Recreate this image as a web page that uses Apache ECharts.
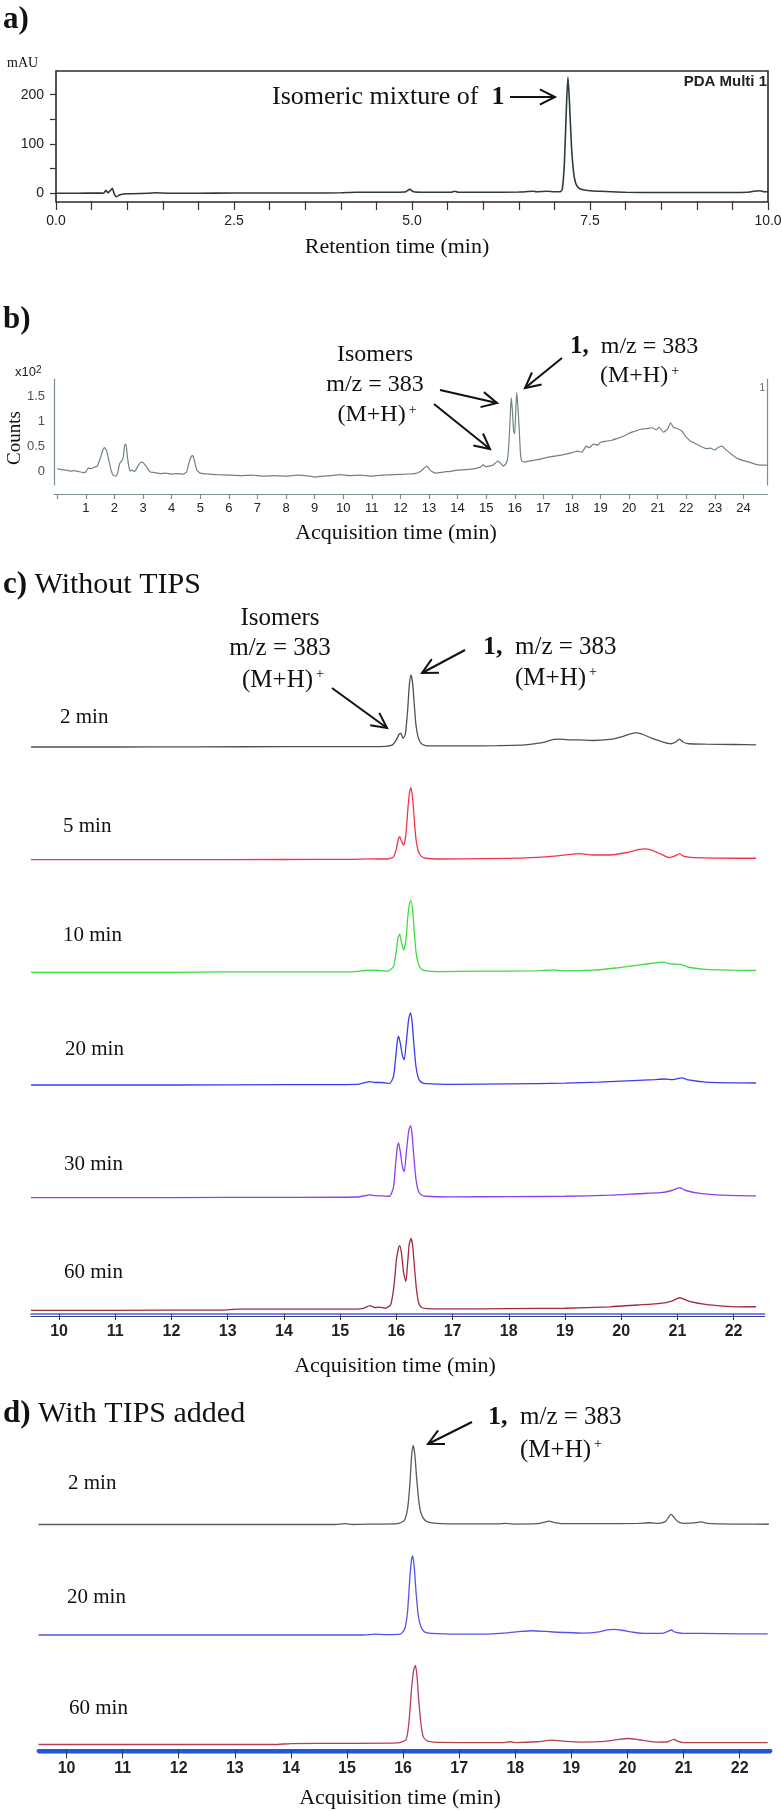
<!DOCTYPE html>
<html>
<head>
<meta charset="utf-8">
<script src="https://cdn.jsdelivr.net/npm/echarts@6/dist/echarts.min.js"></script>
<style>
html,body{margin:0;padding:0;background:#fff;}
#chart{width:782px;height:1811px;}
</style>
</head>
<body>
<div id="chart"></div>
<script>
// ---------------- DATA ----------------
// a) HPLC trace: [retention time (min), mAU]
const traceA = [[0,0],[0.3,0],[0.6,0.5],[0.67,0],[0.7,6],[0.73,1],[0.76,5],[0.79,10],[0.82,-2],[0.85,-7],[0.9,-3],[1.0,-1],[1.3,0],[1.4,1],[1.6,0],[2.0,0],[2.5,0.5],[3.0,0.5],[3.5,0.5],[4.0,1],[4.2,2],[4.5,2],[4.9,2.5],[4.97,8],[5.02,3],[5.2,2],[5.55,2],[5.6,4],[5.65,2],[6.0,2],[6.5,2.5],[6.7,4],[6.75,3],[6.9,4],[7.0,3],[7.08,3],[7.11,8],[7.14,60],[7.17,180],[7.19,236],[7.21,190],[7.24,95],[7.27,42],[7.3,20],[7.34,11],[7.4,7],[7.5,5],[7.65,4],[7.8,3],[8.0,2],[8.5,1.5],[9.0,1.5],[9.5,1.5],[9.7,2],[9.8,4],[9.88,5],[9.95,3],[10,3]];
const aXTicks = [0,0.5,1,1.5,2,2.5,3,3.5,4,4.5,5,5.5,6,6.5,7,7.5,8,8.5,9,9.5,10];
const aXLabels = [0,2.5,5,7.5,10];
const aYTicks = [0,50,100,150,200];
const aYLabels = [0,100,200];

// b) LC-MS trace: [acquisition time (min), counts x10^2]
const traceB = [[0,0.05],[0.15,0.03],[0.3,0.02],[0.45,0.0],[0.6,0.01],[0.75,-0.01],[0.9,-0.03],[1.0,-0.02],[1.08,0.06],[1.2,0.05],[1.3,0.08],[1.4,0.1],[1.5,0.25],[1.58,0.4],[1.65,0.47],[1.72,0.42],[1.8,0.22],[1.88,0.02],[1.95,-0.08],[2.05,-0.1],[2.12,-0.02],[2.18,0.15],[2.25,0.2],[2.3,0.26],[2.36,0.52],[2.4,0.54],[2.45,0.3],[2.5,0.1],[2.55,0.0],[2.62,0.02],[2.7,-0.01],[2.8,0.08],[2.9,0.17],[2.97,0.18],[3.05,0.14],[3.15,0.06],[3.25,-0.02],[3.4,-0.03],[3.6,-0.05],[3.8,-0.04],[4.0,-0.06],[4.2,-0.05],[4.4,-0.06],[4.52,-0.02],[4.6,0.15],[4.68,0.29],[4.74,0.31],[4.8,0.2],[4.88,0.02],[5.0,-0.04],[5.3,-0.06],[5.6,-0.07],[6.0,-0.08],[6.4,-0.09],[6.8,-0.08],[7.2,-0.1],[7.6,-0.09],[8.0,-0.1],[8.4,-0.08],[8.8,-0.1],[9.0,-0.12],[9.3,-0.1],[9.6,-0.09],[9.9,-0.07],[10.2,-0.09],[10.6,-0.08],[11.0,-0.1],[11.4,-0.08],[11.8,-0.07],[12.2,-0.06],[12.5,-0.05],[12.7,-0.01],[12.85,0.07],[12.92,0.1],[13.0,0.05],[13.1,-0.01],[13.25,-0.04],[13.5,-0.02],[13.8,0.0],[14.0,0.02],[14.3,0.03],[14.6,0.05],[14.8,0.08],[14.9,0.13],[14.97,0.09],[15.1,0.1],[15.25,0.12],[15.4,0.2],[15.5,0.16],[15.6,0.1],[15.68,0.14],[15.75,0.25],[15.8,0.6],[15.85,1.2],[15.88,1.47],[15.92,1.2],[15.96,0.8],[16.0,0.75],[16.04,1.3],[16.07,1.58],[16.11,1.3],[16.16,0.8],[16.2,0.35],[16.25,0.2],[16.35,0.18],[16.5,0.2],[16.7,0.22],[16.9,0.24],[17.1,0.27],[17.4,0.3],[17.7,0.33],[18.0,0.37],[18.2,0.4],[18.35,0.38],[18.5,0.5],[18.6,0.47],[18.75,0.54],[18.9,0.52],[19.0,0.58],[19.2,0.6],[19.4,0.62],[19.6,0.66],[19.8,0.7],[20.0,0.76],[20.2,0.8],[20.4,0.84],[20.6,0.85],[20.8,0.87],[20.95,0.83],[21.05,0.88],[21.2,0.78],[21.35,0.85],[21.45,0.97],[21.55,0.88],[21.7,0.85],[21.85,0.8],[22.0,0.68],[22.15,0.6],[22.3,0.56],[22.5,0.5],[22.7,0.45],[22.85,0.46],[23.0,0.42],[23.1,0.47],[23.25,0.5],[23.4,0.42],[23.6,0.33],[23.8,0.25],[24.0,0.21],[24.2,0.18],[24.4,0.14],[24.6,0.12],[24.84,0.12]];
const bXTicks = [0,1,2,3,4,5,6,7,8,9,10,11,12,13,14,15,16,17,18,19,20,21,22,23,24];
const bXLabels = [1,2,3,4,5,6,7,8,9,10,11,12,13,14,15,16,17,18,19,20,21,22,23,24];
const bYLabels = [0,0.5,1,1.5];

// c) Without TIPS (relative intensity, main peak = 100)
const c2min = [[9.5,0],[11,0],[12.5,0.2],[14,0.5],[15,0.5],[15.5,0.6],[15.8,1],[15.93,3],[16.0,10],[16.05,18],[16.08,19],[16.12,12],[16.16,18],[16.2,50],[16.23,85],[16.26,100],[16.29,88],[16.32,58],[16.35,30],[16.39,13],[16.44,5],[16.52,2],[16.7,1.5],[17.2,1.5],[17.8,2],[18.3,3],[18.6,6],[18.8,10.5],[18.9,11],[19.05,10],[19.26,10],[19.5,9],[19.8,10.5],[20.0,14],[20.15,18],[20.28,19.5],[20.4,17],[20.55,12],[20.7,8],[20.88,4.5],[20.97,7],[21.04,11],[21.1,7],[21.2,4.5],[21.5,4],[22.0,3.5],[22.4,3]];
const c5min = [[9.5,0],[12,0],[14,0.3],[15.2,0.5],[15.5,1.2],[15.65,1],[15.85,1],[15.95,4],[16.0,15],[16.03,27],[16.06,32],[16.09,26],[16.13,20],[16.17,35],[16.21,75],[16.24,96],[16.26,100],[16.29,85],[16.32,55],[16.35,28],[16.39,12],[16.44,5],[16.52,2],[16.8,1],[17.5,1.5],[18.3,2.5],[18.8,5],[19.1,7.5],[19.26,8.3],[19.5,6.5],[19.8,6.5],[20.1,10],[20.3,14],[20.42,15],[20.55,13],[20.7,8],[20.85,3],[20.95,5],[21.04,8.3],[21.12,4.5],[21.3,3],[22.0,2],[22.4,2]];
const c10min = [[9.5,0],[12,0],[13,0.6],[15.2,0.6],[15.45,2.5],[15.55,3],[15.7,2.5],[15.85,1.5],[15.95,8],[16.0,30],[16.03,48],[16.06,53],[16.09,42],[16.13,31],[16.17,45],[16.21,82],[16.24,97],[16.26,100],[16.29,86],[16.32,55],[16.35,28],[16.39,12],[16.44,5],[16.52,2],[16.8,1],[17.5,1.5],[18.5,2],[18.8,3.5],[19.0,2],[19.5,3],[19.9,6],[20.3,10],[20.6,13],[20.73,14],[20.9,11.5],[21.06,11],[21.2,7],[21.5,4],[22.0,3],[22.4,2.5]];
const c20min = [[9.5,0],[12,0],[14,0.5],[15.3,1],[15.45,3.5],[15.53,4.6],[15.62,3.5],[15.75,3.5],[15.88,2],[15.95,12],[15.99,40],[16.02,62],[16.04,68],[16.07,58],[16.11,40],[16.14,35],[16.18,62],[16.22,92],[16.25,100],[16.28,88],[16.31,58],[16.35,25],[16.39,10],[16.44,4],[16.52,2],[17,1],[18,1.5],[19,2.5],[19.6,4],[20.2,6],[20.6,7.5],[20.77,8.3],[20.92,7.5],[21.08,10],[21.2,7],[21.5,4],[22,3],[22.4,2.8]];
const c30min = [[9.5,0],[12,0.2],[14,0.5],[15.3,1],[15.45,3],[15.53,3.8],[15.62,2.8],[15.75,2.5],[15.88,2],[15.95,15],[15.99,50],[16.02,72],[16.04,76],[16.07,64],[16.11,42],[16.14,36],[16.18,65],[16.22,93],[16.25,100],[16.28,88],[16.31,58],[16.35,25],[16.39,10],[16.44,4],[16.52,2],[17,1.2],[18,1.5],[19,2],[19.8,3.5],[20.3,5.5],[20.7,7],[20.9,10],[21.04,14],[21.15,10],[21.4,6],[21.8,3.5],[22.4,2.4]];
const c60min = [[9.5,0],[12,0.3],[12.9,0.5],[13.2,1.8],[14,1.8],[15,1.8],[15.4,2.5],[15.53,6.5],[15.62,4],[15.7,4.6],[15.8,3],[15.9,8],[15.96,35],[16.0,70],[16.04,87],[16.06,90],[16.09,80],[16.13,52],[16.17,40],[16.2,65],[16.23,92],[16.26,100],[16.29,90],[16.32,62],[16.36,28],[16.4,10],[16.45,4],[16.55,2.5],[17,2],[18,2.5],[19,3],[19.8,5],[20.3,7.5],[20.7,9.7],[20.9,13],[21.04,17.6],[21.2,13],[21.5,8.3],[21.8,6],[22.1,5],[22.4,5.1]];
const cNames = ['2 min','5 min','10 min','20 min','30 min','60 min'];

// d) With TIPS added
const d2min = [[9.5,0],[12,0],[14.8,0],[14.96,1],[15.1,0],[15.5,0.5],[15.9,1],[16.02,5],[16.08,20],[16.12,50],[16.15,85],[16.18,100],[16.21,88],[16.24,60],[16.28,30],[16.32,14],[16.38,6],[16.45,3],[16.6,1.5],[17.0,0.8],[17.7,0.8],[17.82,1.5],[17.95,0.5],[18.4,1],[18.52,3],[18.6,4.2],[18.7,2.5],[18.9,1],[19.5,1],[20.2,1.5],[20.4,2.2],[20.55,1.5],[20.68,4],[20.74,10],[20.78,12.7],[20.83,9],[20.9,3.5],[21.0,1.5],[21.2,2],[21.32,3.4],[21.42,1.5],[22,0.5],[22.52,0.3]];
const d20min = [[9.5,0],[13,0],[15.3,0],[15.5,1],[15.7,0.4],[15.95,1],[16.03,8],[16.08,30],[16.12,72],[16.15,95],[16.17,100],[16.2,85],[16.23,55],[16.27,25],[16.32,10],[16.38,4],[16.5,2],[17.0,1],[17.3,1],[17.8,2.5],[18.1,4.5],[18.3,5.4],[18.55,4.5],[18.75,3.5],[19.2,2.5],[19.5,4],[19.65,6.5],[19.76,7.2],[19.9,6],[20.1,3.5],[20.3,2],[20.65,2.5],[20.73,5],[20.78,6.3],[20.85,3.5],[21.0,2],[21.3,2],[22,1.5],[22.5,1.3]];
const d60min = [[9.5,0],[12,0],[13.7,0],[14,1.2],[15,1.5],[15.9,2],[16.05,6],[16.1,25],[16.15,70],[16.19,95],[16.22,100],[16.25,85],[16.28,55],[16.32,25],[16.36,10],[16.42,5],[16.55,3],[17,2.5],[17.8,2.5],[17.9,3.5],[18.0,2.5],[18.4,3.5],[18.65,5.5],[18.9,4],[19.2,3],[19.6,4],[19.85,6.5],[20.02,7.6],[20.2,6],[20.5,3],[20.72,3.5],[20.8,6],[20.83,6.3],[20.9,4],[21.0,2.5],[21.5,2.5],[22,2.5],[22.5,2.5]];
const dNames = ['2 min','20 min','60 min'];
const cdTicks = [10,11,12,13,14,15,16,17,18,19,20,21,22];

// ---------------- STYLE / LAYOUT ----------------
const SERIF = '"Liberation Serif","Times New Roman",serif';
const SANS = '"Liberation Sans",Arial,sans-serif';
const cTraces = [c2min,c5min,c10min,c20min,c30min,c60min];
const cColors = ['#4b5257','#f2344e','#3fdc3f','#3c3cef','#8f3ef0','#a22a3c'];
const cBase = [747, 859.7, 972.3, 1085, 1197.7, 1310.4];
const cScale = 0.72;
const dTraces = [d2min,d20min,d60min];
const dColors = ['#555b60','#5454ec','#bb3d52'];
const dBase = [1524.5, 1635, 1744.5];
const dScale = 0.79;

const grids=[], xAxes=[], yAxes=[], series=[];
function addGrid(g){ grids.push(Object.assign({show:false, containLabel:false, outerBoundsMode:'none'}, g)); return grids.length-1; }
const hidden = {show:false};

// panel a
let gi = addGrid({left:56, top:71, width:712, height:131, show:true, borderColor:'#2a2a2a', borderWidth:1.6, backgroundColor:'transparent'});
xAxes.push({gridIndex:gi, type:'value', min:0, max:10, axisLine:{show:false, onZero:false},
  axisTick:{show:true, customValues:aXTicks, length:8, lineStyle:{color:'#333', width:1.2}},
  axisLabel:{show:true, customValues:aXLabels, formatter:v=>v.toFixed(1), margin:12, fontSize:14, fontFamily:SANS, color:'#222', showMinLabel:true, showMaxLabel:true, hideOverlap:false},
  splitLine:hidden});
yAxes.push({gridIndex:gi, type:'value', min:-17.7, max:248.2, axisLine:{show:false, onZero:false},
  axisTick:{show:true, customValues:aYTicks, length:6, lineStyle:{color:'#333', width:1.2}},
  axisLabel:{show:true, customValues:aYLabels, margin:12, fontSize:14, fontFamily:SANS, color:'#222', showMinLabel:true, showMaxLabel:true, hideOverlap:false},
  splitLine:hidden});
series.push({type:'line', xAxisIndex:xAxes.length-1, yAxisIndex:yAxes.length-1, data:traceA, showSymbol:false, smooth:0.2,
  lineStyle:{color:'#2d3a3f', width:1.6}});

// panel b
const bAxisColor = '#7d8f8f';
const bXMin = -0.115, bXMax = 24.84, bMin = -0.28, bMax = 1.85;
gi = addGrid({left:54, top:379, width:713.5, height:106});
xAxes.push({gridIndex:gi, type:'value', min:bXMin, max:bXMax, offset:9, axisLine:{show:true, onZero:false, lineStyle:{color:bAxisColor, width:1.2}},
  axisTick:{show:true, customValues:bXTicks, length:5, lineStyle:{color:bAxisColor, width:1.2}},
  axisLabel:{show:true, customValues:bXLabels, margin:8, fontSize:13, fontFamily:SANS, color:'#222', showMinLabel:true, showMaxLabel:true, hideOverlap:false},
  splitLine:hidden});
yAxes.push({gridIndex:gi, type:'value', min:bMin, max:bMax,
  axisLine:{show:true, onZero:false, lineStyle:{color:bAxisColor, width:1.2}},
  axisTick:{show:false}, axisLabel:hidden, splitLine:hidden});
const bSeriesY = yAxes.length-1, bSeriesX = xAxes.length-1;
yAxes.push({gridIndex:gi, type:'value', position:'right', min:bMin, max:bMax, axisLine:{show:true, onZero:false, lineStyle:{color:bAxisColor, width:1.2}},
  axisTick:hidden, axisLabel:hidden, splitLine:hidden});
series.push({type:'line', xAxisIndex:bSeriesX, yAxisIndex:bSeriesY, data:traceB, showSymbol:false, smooth:0.15,
  lineStyle:{color:'#6f8383', width:1.2}});
// y tick labels of b, placed on the b scale at the left axis
series.push({type:'scatter', xAxisIndex:bSeriesX, yAxisIndex:bSeriesY, silent:true, z:10, clip:false,
  data:bYLabels.map(v=>[bXMin, v]), symbolSize:0,
  label:{show:true, position:'left', distance:9, formatter:p=>String(p.value[1]), fontSize:13, fontFamily:SANS, color:'#222'},
  labelLayout:{hideOverlap:false}});

// panel c
cTraces.forEach((tr,i)=>{
  const g = addGrid({left:31, width:733.5, top:cBase[i]-105*cScale, height:110*cScale});
  const last = i===cTraces.length-1;
  xAxes.push({gridIndex:g, type:'value', min:9.5, max:22.55, show:true,
    axisLine:{show:last, onZero:false, lineStyle:{color:'#3d64e0', width:1.6}},
    axisTick:{show:last, customValues:cdTicks, length:6, lineStyle:{color:'#333', width:1}},
    axisLabel:{show:last, customValues:cdTicks, margin:10, fontSize:16, fontWeight:'bold', fontFamily:SANS, color:'#222', showMinLabel:true, showMaxLabel:true},
    splitLine:hidden});
  yAxes.push({gridIndex:g, type:'value', min:-5, max:105, show:false, axisLine:{onZero:false}, splitLine:hidden});
  series.push({type:'line', xAxisIndex:xAxes.length-1, yAxisIndex:yAxes.length-1, data:tr, showSymbol:false, smooth:0.2,
    lineStyle:{color:cColors[i], width:1.3}});
  if(last){
    xAxes.push({gridIndex:g, type:'value', min:9.5, max:22.55, position:'bottom', offset:2,
      axisLine:{show:true, onZero:false, lineStyle:{color:'#3b4070', width:1.2}}, axisTick:hidden, axisLabel:hidden, splitLine:hidden});
  }
});

// panel d
dTraces.forEach((tr,i)=>{
  const g = addGrid({left:38.5, width:732, top:dBase[i]-105*dScale, height:110*dScale});
  const last = i===dTraces.length-1;
  xAxes.push({gridIndex:g, type:'value', min:9.5, max:22.55, show:true, offset: last?2:0,
    axisLine:{show:last, onZero:false, lineStyle:{color:'#1f58d8', width:4}},
    axisTick:{show:last, customValues:cdTicks, length:8, lineStyle:{color:'#333', width:1}},
    axisLabel:{show:last, customValues:cdTicks, margin:10, fontSize:16, fontWeight:'bold', fontFamily:SANS, color:'#222', showMinLabel:true, showMaxLabel:true},
    splitLine:hidden});
  yAxes.push({gridIndex:g, type:'value', min:-5, max:105, show:false, axisLine:{onZero:false}, splitLine:hidden});
  series.push({type:'line', xAxisIndex:xAxes.length-1, yAxisIndex:yAxes.length-1, data:tr, showSymbol:false, smooth:0.2,
    lineStyle:{color:dColors[i], width:1.3}});
  if(last){
    xAxes.push({gridIndex:g, type:'value', min:9.5, max:22.55, position:'bottom', offset:5,
      axisLine:{show:true, onZero:false, lineStyle:{color:'#9aa4b4', width:1.2}}, axisTick:hidden, axisLabel:hidden, splitLine:hidden});
  }
});

// ---------------- TEXT & ARROWS ----------------
function T(x, y, text, o){
  const st = Object.assign({text:text, fill:'#111', fontFamily:SERIF, fontSize:21, align:'left', verticalAlign:'middle'}, o||{});
  return {type:'text', x:x, y:y, z:0, silent:true, style:st};
}
function C(x,y,text,o){ return T(x,y,text,Object.assign({align:'center'}, o||{})); }
const richMH = { s:{fontSize:14, fontFamily:SERIF, verticalAlign:'top', padding:[0,0,0,3]} };
function arrow(x1,y1,x2,y2){
  const head=17, ang=0.47;
  const dx=x1-x2, dy=y1-y2, L=Math.hypot(dx,dy), ux=dx/L, uy=dy/L;
  const rot=a=>[x2+head*(ux*Math.cos(a)-uy*Math.sin(a)), y2+head*(ux*Math.sin(a)+uy*Math.cos(a))];
  const st={stroke:'#111', lineWidth:2, fill:null};
  return [
    {type:'polyline', silent:true, z:0, shape:{points:[[x1,y1],[x2,y2]]}, style:st},
    {type:'polyline', silent:true, z:0, shape:{points:[rot(ang),[x2,y2],rot(-ang)]}, style:st}
  ];
}
const boldRich = (size)=>({ b:{fontWeight:'bold', fontSize:size, fontFamily:SERIF}, s:{fontSize:14, fontFamily:SERIF, verticalAlign:'top'} });

let gfx = [];
// panel labels
gfx.push(T(3, 20, 'a)', {fontSize:31, fontWeight:'bold'}));
gfx.push(T(3, 320, 'b)', {fontSize:31, fontWeight:'bold'}));
gfx.push(T(3, 585, '{b|c)} Without TIPS', {fontSize:30, rich:boldRich(31)}));
gfx.push(T(3, 1414, '{b|d)} With TIPS added', {fontSize:30, rich:boldRich(31)}));

// panel a texts
gfx.push(T(7, 63, 'mAU', {fontSize:14}));
gfx.push(T(272, 97, 'Isomeric mixture of  {b|1}', {fontSize:26, rich:boldRich(26)}));
gfx.push(T(767, 82, 'PDA Multi 1', {fontSize:15, fontWeight:'bold', fontFamily:SANS, align:'right', fill:'#222'}));
gfx.push(C(397, 247, 'Retention time (min)', {fontSize:22}));
gfx = gfx.concat(arrow(510,97,555,97));

// panel b texts
gfx.push(T(15, 372, 'x10{s|2}', {fontSize:13, fontFamily:SANS, fill:'#222', rich:{s:{fontSize:10, fontFamily:SANS, verticalAlign:'top'}}}));
gfx.push({type:'text', x:15, y:438, rotation:Math.PI/2, z:0, silent:true, style:{text:'Counts', fill:'#111', fontFamily:SERIF, fontSize:19, align:'center', verticalAlign:'middle'}});
gfx.push(T(765, 388, '1', {fontSize:10, fontFamily:SANS, fill:'#667', align:'right'}));
gfx.push(C(375, 355, 'Isomers', {fontSize:24}));
gfx.push(C(375, 385, 'm/z = 383', {fontSize:24}));
gfx.push(C(377, 415, '(M+H){s|+}', {fontSize:24, rich:richMH}));
gfx.push(T(570, 347, '{b|1,}  m/z = 383', {fontSize:24, rich:boldRich(25)}));
gfx.push(T(600, 376, '(M+H){s|+}', {fontSize:24, rich:richMH}));
gfx.push(C(396, 533, 'Acquisition time (min)', {fontSize:22}));
gfx = gfx.concat(arrow(440,390,497,403), arrow(434,404,490,449), arrow(562,358,525,388));

// panel c texts
const cLabelPos = [[60,717],[63,826],[63,935],[65,1049],[64,1164],[64,1272]];
cNames.forEach((n,i)=>gfx.push(T(cLabelPos[i][0], cLabelPos[i][1], n, {fontSize:21})));
gfx.push(C(280, 618, 'Isomers', {fontSize:25}));
gfx.push(C(280, 648, 'm/z = 383', {fontSize:25}));
gfx.push(C(283, 680, '(M+H){s|+}', {fontSize:25, rich:richMH}));
gfx.push(T(483, 647, '{b|1,}  m/z = 383', {fontSize:25, rich:boldRich(26)}));
gfx.push(T(515, 678, '(M+H){s|+}', {fontSize:25, rich:richMH}));
gfx.push(C(395, 1366, 'Acquisition time (min)', {fontSize:22}));
gfx = gfx.concat(arrow(332,688,387,728), arrow(465,650,422,673));

// panel d texts
const dLabelPos = [[68,1483],[67,1597],[69,1708]];
dNames.forEach((n,i)=>gfx.push(T(dLabelPos[i][0], dLabelPos[i][1], n, {fontSize:21})));
gfx.push(T(488, 1417, '{b|1,}  m/z = 383', {fontSize:25, rich:boldRich(26)}));
gfx.push(T(520, 1450, '(M+H){s|+}', {fontSize:25, rich:richMH}));
gfx.push(C(400, 1798, 'Acquisition time (min)', {fontSize:22}));
gfx = gfx.concat(arrow(472,1422,428,1444));

const chart = echarts.init(document.getElementById('chart'), null, {renderer:'canvas', width:782, height:1811});
chart.setOption({
  animation:false,
  backgroundColor:'#ffffff',
  grid:grids, xAxis:xAxes, yAxis:yAxes, series:series,
  graphic:{elements:gfx}
});
</script>
</body>
</html>
